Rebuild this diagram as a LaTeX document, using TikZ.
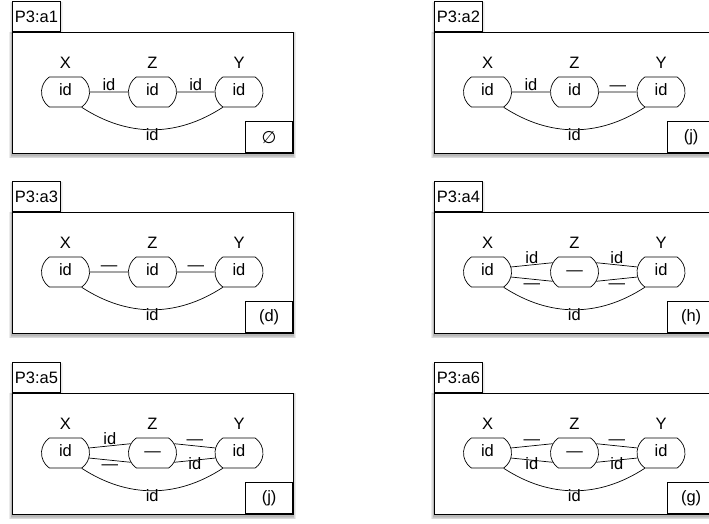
\documentclass[tikz,border=0pt]{standalone}
\usepackage{fontspec}
\setmainfont{Liberation Sans}
\newfontfamily\symfont{DejaVu Sans}
\usetikzlibrary{shapes.misc, positioning}
\tikzset{>=stealth}
\tikzset{
  frameline/.style={draw, fill=white, line width=0.8pt},
  tabbox/.style={draw, fill=white, line width=0.8pt, minimum width=48pt, minimum height=30pt, inner sep=0pt, anchor=south west},
  resbox/.style={draw, fill=white, line width=0.8pt, minimum width=47pt, minimum height=31pt, inner sep=0pt, anchor=south east},
  obj/.style={draw, fill=white, rounded rectangle, rounded rectangle arc length=110, minimum width=48pt, minimum height=30pt, inner sep=0pt, line width=0.7pt, text height=1.5ex, text depth=0pt},
  elabel/.style={inner sep=1.2pt, text height=1.5ex, text depth=0pt},
  conn/.style={line width=0.7pt},
}
% one panel: #1 lower left corner of the frame, #2 name, #3 text in Z, #4 result
\newcommand{\panel}[4]{%
  \begin{scope}[shift={#1}]
    \foreach \k in {1,...,4}{
      \fill[black, opacity=.08] (-\k*.7, -2.5-\k*.7) rectangle (281+\k*.7, 118.5+\k*.7);
      \fill[black, opacity=.05] (-\k*.5, 119) rectangle (48+\k*.7, 149+\k*.5);
    }
    \draw[frameline] (0,0) rectangle (281,121);
    \node[tabbox] (#2tab) at (0,121) {P3:#2};
    \node[resbox] (#2res) at (281,0) {#4};
    \node[obj] (#2X) at (53.5,61) {id};
    \node[obj] (#2Z) at (140.5,61) {#3};
    \node[obj] (#2Y) at (227,61) {id};
    \node (#2Xl) at (53.5,90) {X};
    \node (#2Zl) at (140.5,90) {Z};
    \node (#2Yl) at (227,90) {Y};
    \draw[conn] (#2X.south east) to[bend right=33] node[elabel, below, inner sep=2.5pt]{id} (#2Y.south west);
  \end{scope}}

\begin{document}
\begin{tikzpicture}[x=1pt, y=1pt, font=\fontsize{16.5}{19}\selectfont]
  \clip (0,0) rectangle (709,523);

  % top row
  \panel{(12,370)}{a1}{id}{{\symfont\fontsize{17}{19}\selectfont ∅}}
  \draw[conn] (a1X) -- node[elabel, above]{id} (a1Z);
  \draw[conn] (a1Z) -- node[elabel, above]{id} (a1Y);

  \panel{(434,370)}{a2}{id}{(j)}
  \draw[conn] (a2X) -- node[elabel, above]{id} (a2Z);
  \draw[conn] (a2Z) -- node[elabel, above]{—} (a2Y);

  % middle row
  \panel{(12,190)}{a3}{id}{(d)}
  \draw[conn] (a3X) -- node[elabel, above]{—} (a3Z);
  \draw[conn] (a3Z) -- node[elabel, above]{—} (a3Y);

  \panel{(434,190)}{a4}{—}{(h)}
  \draw[conn] (a4X.12) -- node[elabel, above]{id} (a4Z.157);
  \draw[conn] (a4X.-12) -- node[elabel, below]{—} (a4Z.203);
  \draw[conn] (a4Z.23) -- node[elabel, above]{id} (a4Y.168);
  \draw[conn] (a4Z.-23) -- node[elabel, below]{—} (a4Y.192);

  % bottom row
  \panel{(12,9)}{a5}{—}{(j)}
  \draw[conn] (a5X.12) -- node[elabel, above]{id} (a5Z.157);
  \draw[conn] (a5X.-12) -- node[elabel, below]{—} (a5Z.203);
  \draw[conn] (a5Z.23) -- node[elabel, above]{—} (a5Y.168);
  \draw[conn] (a5Z.-23) -- node[elabel, below]{id} (a5Y.192);

  \panel{(434,9)}{a6}{—}{(g)}
  \draw[conn] (a6X.12) -- node[elabel, above]{—} (a6Z.157);
  \draw[conn] (a6X.-12) -- node[elabel, below]{id} (a6Z.203);
  \draw[conn] (a6Z.23) -- node[elabel, above]{—} (a6Y.168);
  \draw[conn] (a6Z.-23) -- node[elabel, below]{id} (a6Y.192);
\end{tikzpicture}
\end{document}
